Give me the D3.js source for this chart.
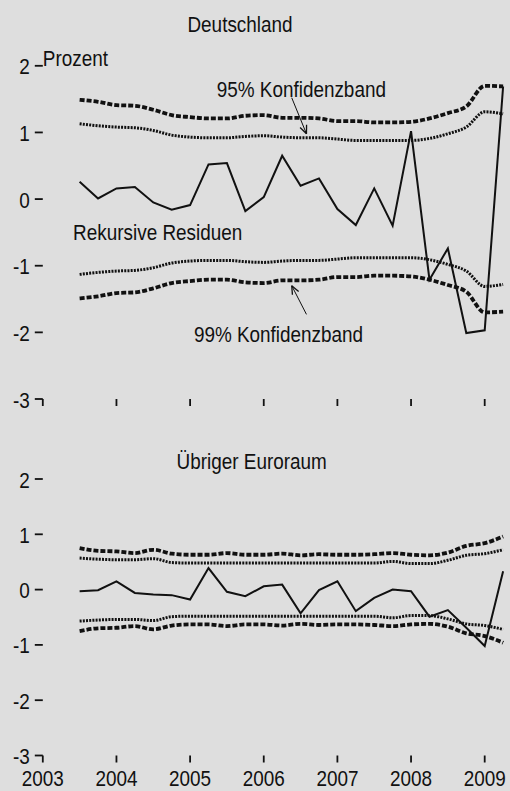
<!DOCTYPE html>
<html><head><meta charset="utf-8">
<script src="https://cdn.jsdelivr.net/npm/d3@7"></script>
<style>
html,body{margin:0;padding:0;background:#dedede;}
svg{display:block;}
text{font-family:"Liberation Sans",Arial,sans-serif;fill:#111;}
</style></head>
<body>
<script>
// ---- data ----
const quarters = ["2003Q3","2003Q4","2004Q1","2004Q2","2004Q3","2004Q4","2005Q1","2005Q2","2005Q3","2005Q4",
  "2006Q1","2006Q2","2006Q3","2006Q4","2007Q1","2007Q2","2007Q3","2007Q4","2008Q1","2008Q2","2008Q3","2008Q4","2009Q1","2009Q2"];
const yearTicks = [2003, 2004, 2005, 2006, 2007, 2008, 2009];
const valueTicks = [2, 1, 0, -1, -2, -3];

// Deutschland
const deResid = [0.26, 0.01, 0.16, 0.18, -0.05, -0.16, -0.09, 0.52, 0.54, -0.18, 0.03, 0.65, 0.20, 0.31, -0.15, -0.39, 0.16, -0.40, 1.02, -1.21, -0.74, -2.01, -1.97, 1.69];
const de95 = [1.13, 1.10, 1.08, 1.07, 1.03, 0.96, 0.93, 0.92, 0.92, 0.94, 0.95, 0.93, 0.92, 0.92, 0.90, 0.88, 0.88, 0.88, 0.88, 0.91, 0.98, 1.08, 1.31, 1.28];
const de99 = [1.49, 1.46, 1.41, 1.40, 1.34, 1.26, 1.23, 1.21, 1.21, 1.25, 1.26, 1.22, 1.22, 1.21, 1.17, 1.17, 1.15, 1.15, 1.16, 1.21, 1.29, 1.39, 1.70, 1.69];

// Übriger Euroraum
const euResid = [-0.03, -0.01, 0.15, -0.06, -0.09, -0.10, -0.18, 0.39, -0.04, -0.12, 0.06, 0.09, -0.43, -0.01, 0.15, -0.39, -0.15, 0.00, -0.03, -0.49, -0.37, -0.69, -1.02, 0.33];
const eu95 = [0.57, 0.55, 0.54, 0.54, 0.56, 0.49, 0.48, 0.48, 0.48, 0.48, 0.48, 0.48, 0.48, 0.48, 0.48, 0.48, 0.48, 0.51, 0.47, 0.47, 0.53, 0.62, 0.65, 0.72];
const eu99 = [0.75, 0.70, 0.69, 0.66, 0.72, 0.65, 0.63, 0.63, 0.66, 0.63, 0.63, 0.65, 0.62, 0.64, 0.63, 0.63, 0.64, 0.66, 0.63, 0.62, 0.67, 0.79, 0.84, 0.96];

// ---- layout ----
const W = 510, H = 791;
const FS = 22, SX = 0.86;
const svg = d3.select("body").append("svg").attr("width", W).attr("height", H);
svg.append("rect").attr("width", W).attr("height", H).attr("fill", "#dedede");

const qPos = q => +q.slice(0,4) + (+q.slice(5) - 1) / 4;
const x = d3.scaleLinear().domain([2003, 2009]).range([42.8, 484.7]);

function txt(g, px, py, s, anchor) {
  return g.append("text")
    .attr("transform", `translate(${px},${py}) scale(${SX},1)`)
    .attr("text-anchor", anchor || "middle")
    .attr("font-size", FS)
    .text(s);
}

function panel(y, resid, b95, b99, showYears) {
  const g = svg.append("g");
  valueTicks.forEach(v => {
    g.append("line").attr("x1", x(2003) - 8).attr("x2", x(2003)).attr("y1", y(v)).attr("y2", y(v))
      .attr("stroke", "#111").attr("stroke-width", 1.8);
    txt(g, x(2003) - 13, y(v) + 8.5, String(v), "end");
  });
  yearTicks.forEach(t => {
    g.append("line").attr("x1", x(t)).attr("x2", x(t)).attr("y1", y(-3)).attr("y2", y(-3) + 7)
      .attr("stroke", "#111").attr("stroke-width", 1.8);
    if (showYears) txt(g, x(t), y(-3) + 30.5, String(t), "middle");
  });
  const line = d3.line().x((d, i) => x(qPos(quarters[i]))).y(d => y(d));
  const band = d3.line().x((d, i) => x(qPos(quarters[i]))).y(d => y(d)).curve(d3.curveMonotoneX);
  const dot = {w: 3, dash: "2,1.2"};
  const dsh = {w: 3.8, dash: "5,2"};
  [[b95, dot], [b99, dsh]].forEach(([arr, st]) => {
    [1, -1].forEach(sgn => {
      g.append("path").attr("d", band(arr.map(v => v * sgn)))
        .attr("fill", "none").attr("stroke", "#111").attr("stroke-width", st.w)
        .attr("stroke-dasharray", st.dash);
    });
  });
  g.append("path").attr("d", line(resid)).attr("fill", "none").attr("stroke", "#111")
    .attr("stroke-width", 2).attr("stroke-linejoin", "miter");
  return g;
}

function arrow(g, x1, y1, x2, y2) {
  g.append("line").attr("x1", x1).attr("y1", y1).attr("x2", x2).attr("y2", y2)
    .attr("stroke", "#111").attr("stroke-width", 1);
  const a = Math.atan2(y2 - y1, x2 - x1), L = 9, s = 0.4;
  [a + Math.PI - s, a + Math.PI + s].forEach(b => {
    g.append("line").attr("x1", x2).attr("y1", y2)
      .attr("x2", x2 + L * Math.cos(b)).attr("y2", y2 + L * Math.sin(b))
      .attr("stroke", "#111").attr("stroke-width", 1.3);
  });
}

// top panel: Deutschland
const yTop = d3.scaleLinear().domain([2, -3]).range([65.8, 399]);
const gTop = panel(yTop, deResid, de95, de99, false);
txt(gTop, 240, 31.5, "Deutschland");
txt(gTop, x(2003), yTop(2) + 0.5, "Prozent", "start");
txt(gTop, x(2006.51), yTop(1.53), "95% Konfidenzband");
arrow(gTop, x(2006.38), yTop(1.52), x(2006.58), yTop(0.98));
txt(gTop, x(2004.56), yTop(-0.62), "Rekursive Residuen");
txt(gTop, x(2006.2), yTop(-2.14), "99% Konfidenzband");
arrow(gTop, x(2006.58), yTop(-1.73), x(2006.38), yTop(-1.30));

// bottom panel: Übriger Euroraum
const yBot = d3.scaleLinear().domain([2, -3]).range([479, 755.5]);
const gBot = panel(yBot, euResid, eu95, eu99, true);
txt(gBot, 251.7, 469, "Übriger Euroraum");
</script>
</body></html>
